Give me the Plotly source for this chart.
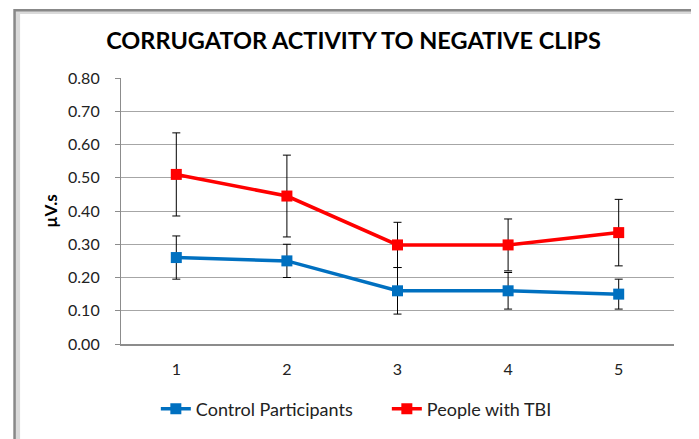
import plotly.graph_objects as go

# ---------------------------------------------------------------------------
# Data
# ---------------------------------------------------------------------------
clips = [1, 2, 3, 4, 5]

control_mean = [0.26, 0.25, 0.16, 0.16, 0.15]
control_err = [0.065, 0.05, 0.07, 0.055, 0.045]

tbi_mean = [0.51, 0.445, 0.298, 0.298, 0.335]
tbi_err = [0.125, 0.123, 0.068, 0.078, 0.10]

y_ticks = [0.0, 0.1, 0.2, 0.3, 0.4, 0.5, 0.6, 0.7, 0.8]

BLUE = "#0070C0"
RED = "#FF0000"
FONT = "Lato, Carlito, Calibri, sans-serif"

fig = go.Figure()

for name, y, err, color in [
    ("Control Participants", control_mean, control_err, BLUE),
    ("People with TBI", tbi_mean, tbi_err, RED),
]:
    fig.add_trace(go.Scatter(
        x=clips, y=y,
        mode="lines+markers",
        name=name,
        line=dict(color=color, width=3.5),
        marker=dict(symbol="square", size=11, color=color),
        error_y=dict(type="data", array=err, visible=True,
                     color="black", thickness=1, width=4),
    ))

# outer chart frame with a soft shadow (plot area is 553 x 266 px)
fig.add_shape(type="rect", xref="paper", yref="paper",
              x0=-0.187, x1=1.043, y0=-0.45, y1=1.25,
              line=dict(color="#DADADA", width=5), layer="below")
fig.add_shape(type="rect", xref="paper", yref="paper",
              x0=-0.1925, x1=1.038, y0=-0.45, y1=1.255,
              line=dict(color="#888888", width=2.5), layer="below")

# the page body adds an 8 px offset, so the figure is 8 px smaller
fig.update_layout(
    width=691, height=431,
    paper_bgcolor="white",
    plot_bgcolor="white",
    font=dict(family=FONT, size=16, color="#222"),
    title=dict(
        text="<b>CORRUGATOR ACTIVITY TO NEGATIVE CLIPS</b>",
        font=dict(size=23.5, color="black"),
        x=0.5, xanchor="center", y=0.925, yanchor="middle",
    ),
    margin=dict(l=113, r=25, t=70, b=95, autoexpand=False),
    legend=dict(
        orientation="h",
        x=0.063, xanchor="left",
        y=-0.245, yanchor="middle",
        font=dict(size=18, color="#222"),
        entrywidth=186, entrywidthmode="pixels",
    ),
    showlegend=True,
)

fig.update_xaxes(
    range=[0.5, 5.5],
    tickvals=clips,
    ticktext=[str(c) for c in clips],
    showgrid=False,
    zeroline=False,
    showline=True, linecolor="#8C8C8C", linewidth=1.5,
    ticks="",
    ticklabelstandoff=10,
)
fig.update_yaxes(
    range=[0, 0.8],
    tickvals=y_ticks,
    tickformat=".2f",
    showgrid=True, gridcolor="#A6A6A6", gridwidth=1.2,
    zeroline=False,
    showline=True, linecolor="#8C8C8C", linewidth=1.2,
    ticks="outside", ticklen=5, tickcolor="#8C8C8C",
    ticklabelstandoff=12,
    title=dict(text="<b>µV.s</b>", font=dict(size=17, color="black"), standoff=6),
)

fig.write_html("out.html")
